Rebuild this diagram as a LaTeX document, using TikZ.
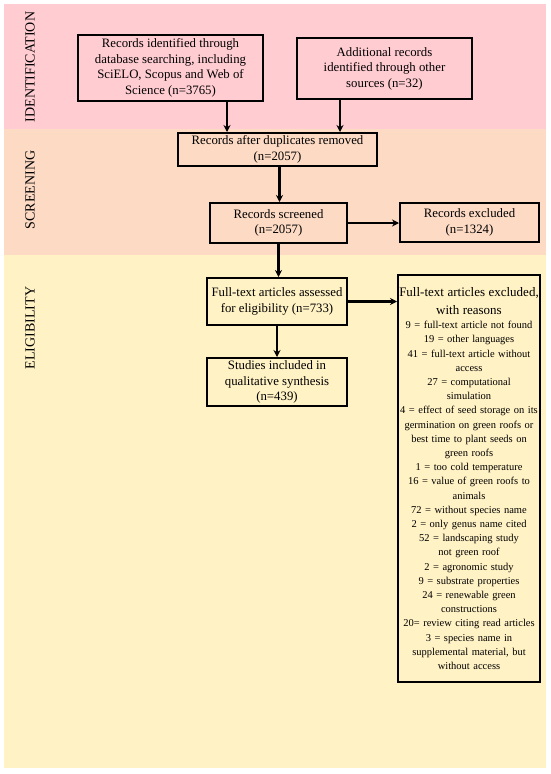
\documentclass[tikz,border=0pt]{standalone}
\usepackage{fontspec}
\setmainfont{Liberation Serif}
\usetikzlibrary{arrows.meta,calc}
\definecolor{bandpink}{RGB}{255,204,210}
\definecolor{bandpeach}{RGB}{252,218,196}
\definecolor{bandyellow}{RGB}{255,242,197}
\tikzset{
  box/.style={draw=black, line width=2pt, align=center, inner sep=1pt,
    font=\fontsize{12.8}{15.5}\selectfont},
  arr/.style={line width=2.2pt, -{Stealth[length=7pt,width=7pt]}},
  phase/.style={rotate=90, font=\fontsize{14}{16}\selectfont}
}
\begin{document}
\begin{tikzpicture}[x=1pt,y=-1pt]
\useasboundingbox (0,0) rectangle (550,774);
\fill[white] (0,0) rectangle (550,774);
\fill[bandpink] (4,4) rectangle (546,129);
\fill[bandpeach] (4,129) rectangle (546,255);
\fill[bandyellow] (4,255) rectangle (546,768);

\node[phase] (pid) at (30,67) {IDENTIFICATION};
\node[phase] (psc) at (30,190) {SCREENING};
\node[phase] (pel) at (30,328) {ELIGIBILITY};

\node[box, minimum width=185pt, minimum height=66pt] (b1) at (170.5,68)
  {Records identified through\\database searching, including\\SciELO, Scopus and Web of\\Science (n=3765)};
\node[box, minimum width=175pt, minimum height=61pt] (b2) at (384.5,68.5)
  {Additional records\\identified through other\\sources (n=32)};
\node[box, minimum width=199pt, minimum height=33pt] (b3) at (277.5,149.5)
  {Records after duplicates removed\\(n=2057)};
\node[box, minimum width=137pt, minimum height=40pt] (b4) at (278.5,223)
  {Records screened\\(n=2057)};
\node[box, minimum width=139pt, minimum height=39pt] (b5) at (469.5,222.5)
  {Records excluded\\(n=1324)};
\node[box, minimum width=140pt, minimum height=47pt] (b6) at (277,301.5)
  {Full-text articles assessed\\for eligibility (n=733)};
\node[box, minimum width=140pt, minimum height=48pt] (b8) at (277,382)
  {Studies included in\\qualitative synthesis\\(n=439)};
\node[box, text width=141pt, inner sep=0.5pt, minimum height=407pt, font=\fontsize{10.5}{14.2}\selectfont] (b7) at (469,478.5)
  {\hyphenpenalty=10000
   {\fontsize{13}{18}\selectfont\mbox{Full-text articles excluded,}\\with reasons\par}
   9 = full-text article not found\\
   19 = other languages\\
   41 = full-text article without\\
   access\\
   27 = computational\\
   simulation\\
   4 = effect of seed storage on its\\
   germination on green roofs or\\
   best time to plant seeds on\\
   green roofs\\
   1 = too cold temperature\\
   16 = value of green roofs to\\
   animals\\
   72 = without species name\\
   2 = only genus name cited\\
   52 = landscaping study\\
   not green roof\\
   2 = agronomic study\\
   9 = substrate properties\\
   24 = renewable green\\
   constructions\\
   20= review citing read articles\\
   3 = species name in\\
   supplemental material, but\\
   without access};

\draw[arr] ([xshift=56.5pt]b1.south) -- ([xshift=56.5pt]b1.south |- b3.north);
\draw[arr] ([xshift=-44.5pt]b2.south) -- ([xshift=-44.5pt]b2.south |- b3.north);
\draw[arr] ([xshift=2pt]b3.south) -- ([xshift=2pt]b3.south |- b4.north);
\draw[arr] (b4.east) -- (b4.east -| b5.west);
\draw[arr] (b4.south) -- (b4.south |- b6.north);
\draw[arr] (b6.east) -- (b6.east -| b7.west);
\draw[arr] (b6.south) -- (b6.south |- b8.north);
\end{tikzpicture}
\end{document}
